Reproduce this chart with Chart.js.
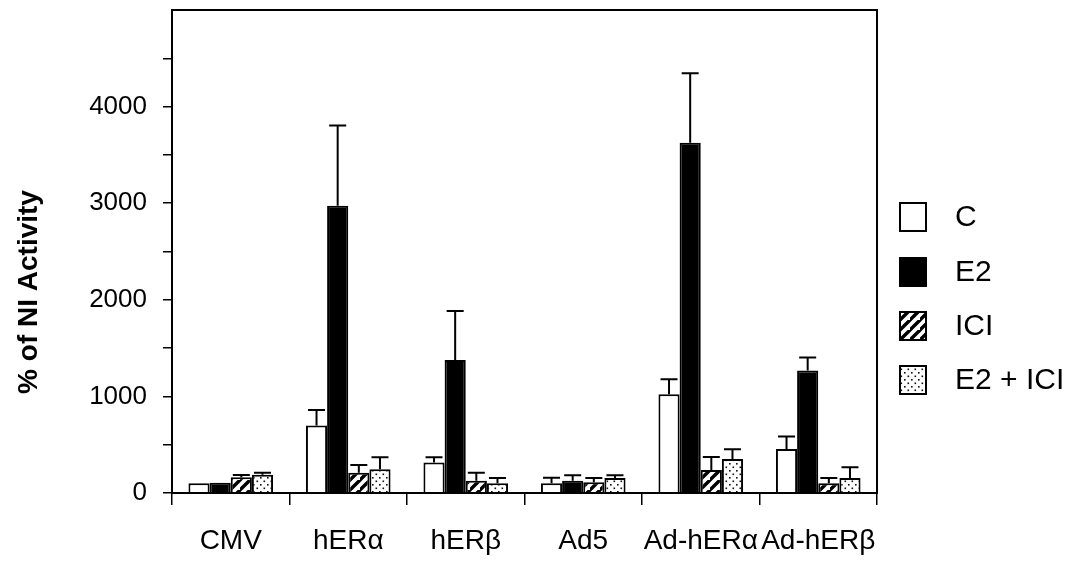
<!DOCTYPE html>
<html>
<head>
<meta charset="utf-8">
<script src="https://cdn.jsdelivr.net/npm/chart.js@4/dist/chart.umd.min.js"></script>
<style>
  html, body { margin: 0; padding: 0; background: #fff; }
  #wrap { width: 1083px; height: 562px; }
</style>
</head>
<body>
<div id="wrap"><canvas id="chart" width="1083" height="562"></canvas></div>
<script>
// chart data
const categories = ['CMV', 'hERα', 'hERβ', 'Ad5', 'Ad-hERα', 'Ad-hERβ'];
const seriesNames = ['C', 'E2', 'ICI', 'E2 + ICI'];

const valuesC     = [100, 700, 317, 100, 1023, 455];
const valuesE2    = [105, 2974, 1378, 127, 3625, 1268];
const valuesICI   = [162, 210, 127, 112, 238, 100];
const valuesE2ICI = [189, 245, 100, 155, 351, 155];

const errC     = [0, 158, 52, 58, 155, 131];
const errE2    = [0, 830, 506, 56, 719, 134];
const errICI   = [24, 79, 83, 43, 134, 55];
const errE2ICI = [21, 124, 55, 28, 101, 111];

const yTicks = [0, 1000, 2000, 3000, 4000];

const FONT = "'Liberation Sans', Arial, sans-serif";

// fill patterns
function hatchPattern() {
  const s = 10;
  const c = document.createElement('canvas');
  c.width = s; c.height = s;
  const g = c.getContext('2d');
  g.fillStyle = '#fff';
  g.fillRect(0, 0, s, s);
  g.strokeStyle = '#000';
  g.lineWidth = 3.4;
  g.beginPath();
  g.moveTo(-2, s + 2); g.lineTo(s + 2, -2);
  g.moveTo(-s - 2, s + 2); g.lineTo(2, -2);
  g.moveTo(s - 2, 2 * s + 2); g.lineTo(2 * s + 2, s - 2);
  g.stroke();
  return g.createPattern(c, 'repeat');
}

function dotPattern() {
  const c = document.createElement('canvas');
  c.width = 7; c.height = 7;
  const g = c.getContext('2d');
  g.fillStyle = '#fff';
  g.fillRect(0, 0, 7, 7);
  g.fillStyle = '#111';
  g.fillRect(1, 1, 1.6, 1.6);
  g.fillRect(4.5, 4.5, 1.6, 1.6);
  return g.createPattern(c, 'repeat');
}

const fills = ['#ffffff', '#000000', hatchPattern(), dotPattern()];
const seriesValues = [valuesC, valuesE2, valuesICI, valuesE2ICI];
const seriesErrors = [errC, errE2, errICI, errE2ICI];

const datasets = seriesNames.map((name, i) => ({
  label: name,
  data: seriesValues[i],
  errors: seriesErrors[i],
  backgroundColor: fills[i],
  borderColor: '#000',
  borderWidth: 2,
  categoryPercentage: 0.72,
  barPercentage: 1.0,
}));

// error bars (upper only), frame, legend and y title
const extras = {
  id: 'extras',
  afterDatasetsDraw(chart) {
    const ctx = chart.ctx;
    const yScale = chart.scales.y;
    ctx.save();
    ctx.strokeStyle = '#000';
    ctx.lineWidth = 2;
    chart.data.datasets.forEach((ds, i) => {
      const meta = chart.getDatasetMeta(i);
      meta.data.forEach((bar, j) => {
        const err = ds.errors[j];
        if (!err) return;
        const yTop = yScale.getPixelForValue(ds.data[j] + err);
        ctx.beginPath();
        ctx.moveTo(bar.x, bar.y);
        ctx.lineTo(bar.x, yTop);
        ctx.moveTo(bar.x - 8.5, yTop);
        ctx.lineTo(bar.x + 8.5, yTop);
        ctx.stroke();
      });
    });
    const a = chart.chartArea;
    ctx.strokeRect(a.left, a.top, a.right - a.left, a.bottom - a.top);
    ctx.restore();
  },
  afterDraw(chart) {
    const ctx = chart.ctx;
    ctx.save();
    // legend
    const rowY = [217, 272, 326, 380];
    chart.data.datasets.forEach((ds, i) => {
      const y = rowY[i];
      ctx.fillStyle = ds.backgroundColor;
      ctx.fillRect(900, y - 14, 26, 28);
      ctx.strokeStyle = '#000';
      ctx.lineWidth = 2;
      ctx.strokeRect(900, y - 14, 26, 28);
      ctx.fillStyle = '#000';
      ctx.font = '30px ' + FONT;
      ctx.textBaseline = 'middle';
      ctx.textAlign = 'left';
      ctx.fillText(ds.label, 955, y + 1);
    });
    // y axis title
    ctx.translate(29, 292);
    ctx.rotate(-Math.PI / 2);
    ctx.font = 'bold 28px ' + FONT;
    ctx.textAlign = 'center';
    ctx.textBaseline = 'middle';
    ctx.fillStyle = '#000';
    ctx.fillText('% of NI Activity', 0, 0);
    ctx.restore();
  }
};

new Chart(document.getElementById('chart').getContext('2d'), {
  type: 'bar',
  data: { labels: categories, datasets: datasets },
  options: {
    responsive: false,
    animation: false,
    layout: { padding: { left: 0, right: 206, top: 10, bottom: 0 } },
    plugins: {
      legend: { display: false },
      tooltip: { enabled: false },
    },
    scales: {
      x: {
        offset: true,
        grid: {
          offset: true,
          drawOnChartArea: false,
          drawTicks: true,
          tickLength: 12,
          color: '#000',
          lineWidth: 1.5,
        },
        border: { color: '#000', width: 2 },
        ticks: {
          color: '#000',
          font: { family: FONT, size: 28 },
          padding: 19,
          maxRotation: 0,
          autoSkip: false,
        },
        afterFit(scale) {
          scale.height = 69;
          scale.paddingLeft = 0;
          scale.paddingRight = 0;
        },
      },
      y: {
        min: 0,
        max: 5000,
        grid: {
          drawOnChartArea: false,
          drawTicks: true,
          tickLength: 9,
          color: '#000',
          lineWidth: 1.5,
        },
        border: { color: '#000', width: 2 },
        ticks: {
          stepSize: 500,
          autoSkip: false,
          color: '#000',
          padding: 16,
          font: { family: FONT, size: 26 },
          callback: (v) => (v >= 5000 ? null : (yTicks.includes(v) ? String(v) : '')),
        },
        afterFit(scale) {
          scale.width = 172;
          scale.paddingTop = 0;
          scale.paddingBottom = 0;
        },
      },
    },
  },
  plugins: [extras],
});
</script>
</body>
</html>
